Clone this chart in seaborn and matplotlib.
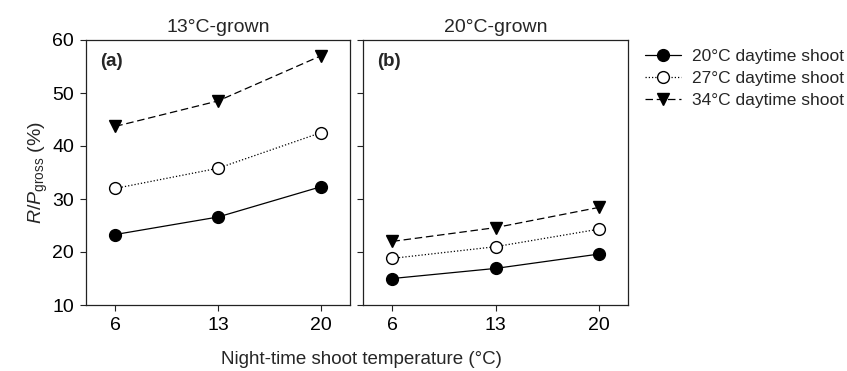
import numpy as np
import pandas as pd
import matplotlib
matplotlib.use('Agg')
import matplotlib.pyplot as plt
import seaborn as sns

# =============================================================================
# DATA
# =============================================================================

night_temp = [6, 13, 20]
series_names = ['20°C daytime shoot', '27°C daytime shoot', '34°C daytime shoot']

grown13_day20 = [23.3, 26.6, 32.3]
grown13_day27 = [32.0, 35.8, 42.5]
grown13_day34 = [43.7, 48.5, 57.0]

grown20_day20 = [15.0, 16.9, 19.6]
grown20_day27 = [18.8, 21.0, 24.3]
grown20_day34 = [22.0, 24.6, 28.4]

panel_titles = ['13°C-grown', '20°C-grown']
panel_tags = ['(a)', '(b)']
y_ticks = [10, 20, 30, 40, 50, 60]

# =============================================================================
# PLOT
# =============================================================================

sns.set_theme(style='ticks')
plt.rcParams['font.family'] = ['Liberation Sans', 'DejaVu Sans']
plt.rcParams['mathtext.fontset'] = 'custom'
plt.rcParams['mathtext.it'] = 'Liberation Sans:italic'
plt.rcParams['mathtext.rm'] = 'Liberation Sans'

FS = 14

styles = [
    dict(marker='o', linestyle='-', mfc='black'),
    dict(marker='o', linestyle=(0, (1, 1.6)), mfc='white'),
    dict(marker='v', linestyle=(0, (6, 3)), mfc='black'),
]

panels = [
    [grown13_day20, grown13_day27, grown13_day34],
    [grown20_day20, grown20_day27, grown20_day34],
]

fig = plt.figure(figsize=(8.47, 3.71), dpi=100)
ax_a = fig.add_axes([86/847, 1 - 305/371, 264/847, 265/371])
ax_b = fig.add_axes([363/847, 1 - 305/371, 265/847, 265/371])
axes = [ax_a, ax_b]

for ax, values, title, tag in zip(axes, panels, panel_titles, panel_tags):
    for name, vals, st in zip(series_names, values, styles):
        df = pd.DataFrame({'night': night_temp, 'rp': vals})
        sns.lineplot(data=df, x='night', y='rp', ax=ax, color='black',
                     marker=st['marker'], linestyle=st['linestyle'],
                     markerfacecolor=st['mfc'], markeredgecolor='black',
                     markersize=8.5, markeredgewidth=1.0, linewidth=0.9,
                     label=name, legend=False)
    ax.set_xlim(4, 22)
    ax.set_ylim(10, 60)
    ax.set_xticks(night_temp)
    ax.set_yticks(y_ticks)
    ax.set_xlabel(''); ax.set_ylabel('')
    ax.set_title(title, fontsize=FS, pad=6)
    ax.text(0.053, 0.95, tag, transform=ax.transAxes, fontsize=13.5,
            fontweight='bold', va='top', ha='left')
    for sp in ax.spines.values():
        sp.set_visible(True)
        sp.set_linewidth(0.9)
        sp.set_color('#222222')
    ax.tick_params(direction='out', length=4.5, width=0.8, labelsize=FS,
                   colors='#222222', labelcolor='black', pad=4)

ax_b.tick_params(labelleft=False)
ax_a.set_ylabel(r'$R/P_{\mathrm{gross}}$ (%)', fontsize=FS, labelpad=2)
fig.text(361/847, 1 - 359/371, 'Night-time shoot temperature (°C)',
         ha='center', va='center', fontsize=13.5)

handles, labels = ax_a.get_legend_handles_labels()
fig.legend(handles, labels, loc='upper left', bbox_to_anchor=(645/847, 1 - 49/371),
           frameon=False, fontsize=12.5, handlelength=2.1, handletextpad=0.6,
           labelspacing=0.38, borderaxespad=0, borderpad=0)

plt.savefig('out.png', dpi=100)
plt.close()
